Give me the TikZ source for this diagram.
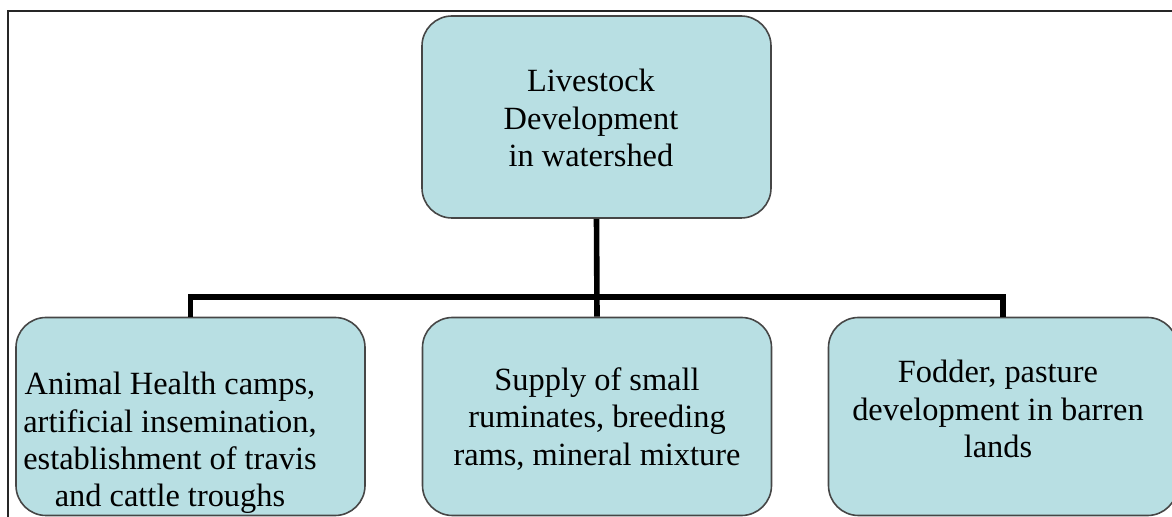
\documentclass[tikz,border=0pt]{standalone}
\usepackage{fontspec}
\setmainfont{Liberation Serif}
\usetikzlibrary{positioning}
\definecolor{boxfill}{RGB}{184,223,227}
\definecolor{boxline}{RGB}{70,70,70}
\begin{document}
\begin{tikzpicture}[x=0.5pt,y=-0.5pt,
  box/.style={draw=boxline,line width=0.8pt,fill=boxfill,rounded corners=15pt,
    minimum width=174.5pt,minimum height=99pt,inner sep=0pt},
  boxtext/.style={align=center,font=\fontsize{16.2}{18.6}\selectfont,inner sep=0pt},
  link/.style={line width=2.8pt,black},
  frameline/.style={line width=1pt,black!85}]
\useasboundingbox (0,0) rectangle (1172,517);

% Outer frame (top and left only)
\draw[frameline] (8,517) -- (8,11) -- (1172,11);

% Boxes
\node[box,minimum height=101pt] (livestock) at (596.5,117) {};
\node[box] (health) at (190.5,416.5) {};
\node[box] (supply) at (597,416.5) {};
\node[box] (fodder) at (1003,416.5) {};

% Box texts
\node[boxtext] (livestocktext) at (591,118) {Livestock\\Development\\in watershed};
\node[boxtext] (healthtext) at (170,443) {Animal Health camps,\\artificial insemination,\\establishment of travis\\and cattle troughs};
\node[boxtext] (supplytext) at (597,419) {Supply of small\\ruminates, breeding\\rams, mineral mixture};
\node[boxtext] (foddertext) at (998,409) {Fodder, pasture\\development in barren\\lands};

% Connectors
\coordinate (bus) at (596.5,297);
\draw[link] (livestock.south) -- (supply.north);
\draw[link] (health.north) |- (bus) -| (fodder.north);
\end{tikzpicture}
\end{document}
